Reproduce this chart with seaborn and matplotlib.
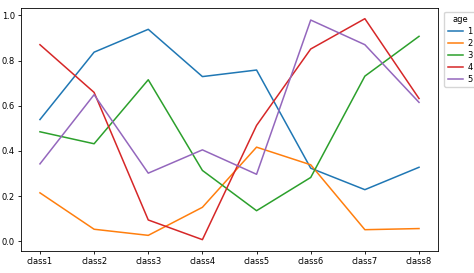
import matplotlib
matplotlib.use("Agg")
import matplotlib.pyplot as plt
import seaborn as sns
import pandas as pd

classes = ["class1", "class2", "class3", "class4", "class5", "class6", "class7", "class8"]
age1 = [0.539, 0.837, 0.938, 0.729, 0.758, 0.324, 0.229, 0.328]
age2 = [0.215, 0.054, 0.027, 0.151, 0.417, 0.339, 0.052, 0.057]
age3 = [0.485, 0.432, 0.715, 0.314, 0.136, 0.283, 0.731, 0.907]
age4 = [0.870, 0.659, 0.095, 0.008, 0.513, 0.851, 0.985, 0.632]
age5 = [0.343, 0.649, 0.302, 0.405, 0.297, 0.979, 0.870, 0.615]
ages = ["1", "2", "3", "4", "5"]
series = [age1, age2, age3, age4, age5]

rows = []
for a, vals in zip(ages, series):
    for c, v in zip(classes, vals):
        rows.append({"class": c, "value": v, "age": a})
df = pd.DataFrame(rows)

plt.rcParams["font.family"] = ["DejaVu Sans"]
fig = plt.figure(figsize=(4.74, 2.73), dpi=100)
ax = fig.add_axes([0.0443, 0.0817, 0.8797, 0.8903])
sns.lineplot(data=df, x="class", y="value", hue="age", palette="tab10",
             sort=False, ax=ax, linewidth=1.1)
ax.set_xlabel("")
ax.set_ylabel("")
ax.set_yticks([0.0, 0.2, 0.4, 0.6, 0.8, 1.0])
ax.tick_params(labelsize=6, length=2.5, width=0.6, pad=2)
for s in ax.spines.values():
    s.set_linewidth(0.6)
leg = ax.legend(title="age", loc="upper left", bbox_to_anchor=(1.005, 1.0),
                fontsize=6, title_fontsize=6, handlelength=1.8, borderpad=0.4,
                labelspacing=0.35, handletextpad=0.6)
fig.savefig("out.png", dpi=100)
